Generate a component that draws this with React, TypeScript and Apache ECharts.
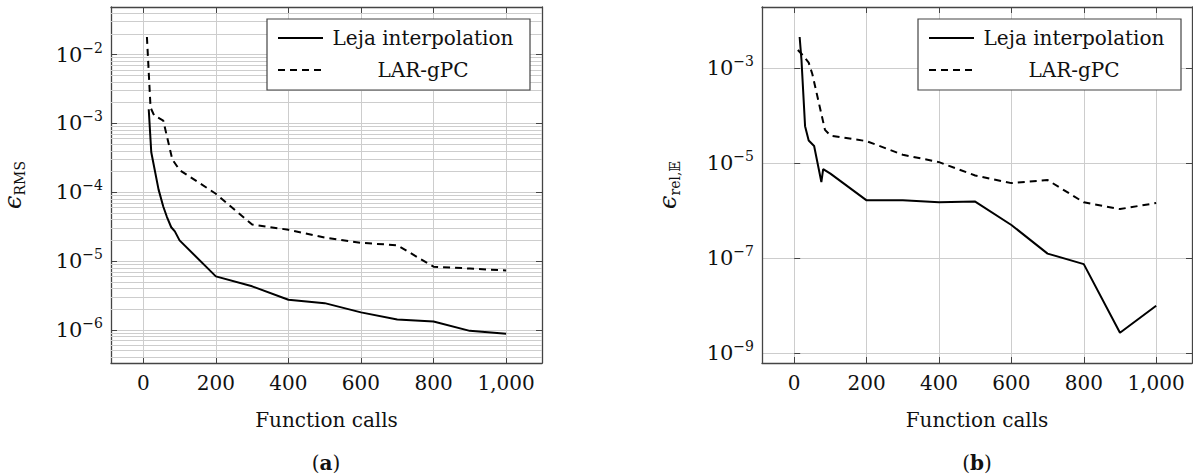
import React, { useEffect, useRef } from "react";
import * as echarts from "echarts";

// ---------- data ----------
// (a) RMS error
const lejaCallsA = [15, 22, 42, 55, 65, 77, 87, 100, 200, 300, 400, 500, 600, 700, 800, 900, 1000];
const lejaErrA = [1.6e-3, 3.8e-4, 1.1e-4, 6.2e-5, 4.4e-5, 3.1e-5, 2.7e-5, 2.0e-5, 6.0e-6, 4.3e-6, 2.75e-6, 2.45e-6, 1.8e-6, 1.42e-6, 1.33e-6, 9.7e-7, 8.8e-7];
const larCallsA = [10, 20, 30, 55, 80, 100, 200, 300, 400, 500, 600, 700, 800, 900, 1000];
const larErrA = [1.8e-2, 1.7e-3, 1.3e-3, 1.1e-3, 3.0e-4, 2.1e-4, 9.5e-5, 3.4e-5, 2.85e-5, 2.2e-5, 1.84e-5, 1.7e-5, 8.3e-6, 7.8e-6, 7.3e-6];
// (b) relative error of the mean
const lejaCallsB = [15, 20, 30, 40, 55, 75, 80, 100, 200, 300, 400, 500, 600, 700, 800, 900, 1000];
const lejaErrB = [4.5e-3, 1.5e-3, 6.0e-5, 3.0e-5, 2.3e-5, 4.0e-6, 7.5e-6, 6.0e-6, 1.65e-6, 1.65e-6, 1.5e-6, 1.55e-6, 5.0e-7, 1.25e-7, 7.5e-8, 2.7e-9, 1.0e-8];
const larCallsB = [10, 20, 40, 50, 85, 100, 200, 300, 400, 500, 600, 700, 800, 900, 1000];
const larErrB = [2.4e-3, 2.0e-3, 1.3e-3, 7.5e-4, 5.0e-5, 3.8e-5, 2.9e-5, 1.5e-5, 1.05e-5, 5.5e-6, 3.8e-6, 4.4e-6, 1.5e-6, 1.08e-6, 1.45e-6];

const seriesNames = ["Leja interpolation", "LAR-gPC"];
const xLabel = "Function calls";
const captions = ["a", "b"];
// decade exponents labelled on panel (b)
const yTickExpB = [-9, -7, -5, -3];

// ---------- styling ----------
const FONT = "DejaVu Serif";
const FS = 20;
const TXT = "#111";
const FRAME = "#444";
const GRID = "#cdcdcd";
const X_MIN = -89;
const X_MAX = 1099;
const EXP_A = [-6.48, -1.31];
const EXP_B = [-9.204, -1.716];
const Y_A = EXP_A.map((e) => Math.pow(10, e));
const Y_B = EXP_B.map((e) => Math.pow(10, e));
// exponent range shifted by one decade so that the automatic even ticks fall on the odd decades of (b)
const EXP_B_SHIFT = EXP_B.map((e) => e + 1);

const zip = (xs: number[], ys: number[]) => xs.map((x, i) => [x, ys[i]]);

const expLabel = (e: number) => `{b|10}{s|${e < 0 ? "\u2212" : ""}${Math.abs(e)}}`;
const supLabel = (v: number) => expLabel(Math.round(Math.log10(v)));

const tickRich = {
  b: { fontFamily: FONT, fontSize: 21, color: TXT, lineHeight: 28 },
  s: { fontFamily: FONT, fontSize: 14, color: TXT, verticalAlign: "top", lineHeight: 15 },
};

function minorValues(range: number[]) {
  const out: number[] = [];
  for (let e = -10; e <= 0; e++) {
    for (let k = 2; k <= 9; k++) {
      const v = k * Math.pow(10, e);
      if (v > range[0] && v < range[1]) out.push(v);
    }
  }
  return out;
}

const lineFrame = { show: true, onZero: false, lineStyle: { color: FRAME, width: 1.3 } };
const tickIn = { show: true, inside: true, length: 6, lineStyle: { color: FRAME, width: 1 } };

function xAxes(grid: number) {
  const base = { type: "value", gridIndex: grid, min: X_MIN, max: X_MAX, axisLine: lineFrame, axisTick: tickIn };
  return [
    {
      ...base,
      position: "bottom",
      name: xLabel,
      nameLocation: "middle",
      nameGap: 47,
      nameTextStyle: { fontFamily: FONT, fontSize: FS, color: TXT },
      axisLabel: {
        fontFamily: FONT,
        fontSize: FS,
        color: TXT,
        margin: 10,
        showMinLabel: false,
        showMaxLabel: false,
        formatter: (v: number) => v.toLocaleString("en-US"),
      },
      splitLine: { show: true, lineStyle: { color: GRID, width: 1 } },
    },
    { ...base, position: "top", axisLabel: { show: false }, splitLine: { show: false } },
  ];
}

const nameRich = {
  e: { fontFamily: FONT, fontSize: 24, fontStyle: "italic", color: TXT, lineHeight: 28 },
  s: { fontFamily: FONT, fontSize: 14, color: TXT, verticalAlign: "bottom", lineHeight: 16 },
};

const yName = (text: string, gap: number) => ({
  name: text,
  nameLocation: "middle",
  nameRotate: 90,
  nameGap: gap,
  nameTextStyle: { rich: nameRich },
});

// panel (a): log axes with their own decade ticks
const yAxesA = [
  {
    type: "log",
    gridIndex: 0,
    position: "left",
    min: Y_A[0],
    max: Y_A[1],
    axisLine: lineFrame,
    axisTick: tickIn,
    ...yName("{e|\u03f5}{s|RMS}", 84),
    axisLabel: { margin: 8, showMinLabel: false, showMaxLabel: false, formatter: supLabel, rich: tickRich },
    splitLine: { show: true, lineStyle: { color: GRID, width: 1 } },
  },
  {
    type: "log",
    gridIndex: 0,
    position: "right",
    min: Y_A[0],
    max: Y_A[1],
    axisLine: lineFrame,
    axisTick: tickIn,
    axisLabel: { show: false },
    splitLine: { show: false },
  },
];

// panel (b): log axis for the data, an exponent axis for the labels,
// and shifted exponent axes giving the grid lines / tick marks at odd decades
const yAxesB = [
  {
    type: "log",
    gridIndex: 1,
    position: "left",
    min: Y_B[0],
    max: Y_B[1],
    axisLine: lineFrame,
    axisTick: { show: false },
    axisLabel: { show: false },
    splitLine: { show: false },
    ...yName("{e|\u03f5}{s|rel,\ud835\udd3c}", 80),
  },
  {
    type: "value",
    gridIndex: 1,
    position: "left",
    min: EXP_B[0],
    max: EXP_B[1],
    axisLine: { show: false },
    axisTick: { show: false },
    axisLabel: { margin: 8, customValues: yTickExpB, formatter: (e: number) => expLabel(e), rich: tickRich },
    splitLine: { show: false },
  },
  {
    type: "value",
    gridIndex: 1,
    position: "left",
    min: EXP_B_SHIFT[0],
    max: EXP_B_SHIFT[1],
    splitNumber: 4,
    axisLine: { show: false },
    axisTick: tickIn,
    axisLabel: { show: false },
    splitLine: { show: true, lineStyle: { color: GRID, width: 1 } },
  },
  {
    type: "value",
    gridIndex: 1,
    position: "right",
    min: EXP_B_SHIFT[0],
    max: EXP_B_SHIFT[1],
    splitNumber: 4,
    axisLine: lineFrame,
    axisTick: tickIn,
    axisLabel: { show: false },
    splitLine: { show: false },
  },
];

function legend(left: number) {
  return {
    left,
    top: 19,
    orient: "vertical",
    selectedMode: false,
    data: seriesNames,
    itemWidth: 45,
    itemHeight: 14,
    itemGap: 12,
    padding: [9, 12, 10, 10],
    backgroundColor: "#fff",
    borderColor: FRAME,
    borderWidth: 1.2,
    borderRadius: 0,
    itemStyle: { color: "rgba(0,0,0,0)", borderColor: "rgba(0,0,0,0)", borderWidth: 0, opacity: 0 },
    lineStyle: { opacity: 1 },
    formatter: (n: string) => `{c|${n}}`,
    textStyle: {
      rich: {
        c: { width: 190, align: "center", fontFamily: FONT, fontSize: FS, color: TXT, lineHeight: 24 },
      },
    },
  };
}

const gridMark = (vals: number[], color: string) => ({
  silent: true,
  symbol: ["none", "none"],
  precision: 12,
  z: 1,
  label: { show: false },
  lineStyle: { color, type: "solid", width: 1 },
  emphasis: { disabled: true },
  data: vals.map((v) => ({ yAxis: v })),
});

const lineSeries = (name: string, xi: number, yi: number, data: number[][], dashed: boolean, extra: any = {}) => ({
  type: "line",
  name,
  xAxisIndex: xi,
  yAxisIndex: yi,
  data,
  symbol: "none",
  showSymbol: false,
  z: 3,
  lineStyle: { color: "#000", width: 2, type: dashed ? [7, 5] : "solid" },
  itemStyle: { color: "#000" },
  ...extra,
});

export default function App() {
  const ref = useRef<HTMLDivElement>(null);
  useEffect(() => {
    if (!ref.current) return;
    const chart = echarts.init(ref.current, undefined, { renderer: "svg" });
    const option: any = {
      animation: false,
      backgroundColor: "#fff",
      grid: [
        { left: 111, top: 7, width: 431, height: 356, containLabel: false },
        { left: 762, top: 7, width: 430, height: 356, containLabel: false },
      ],
      xAxis: [...xAxes(0), ...xAxes(1)],
      yAxis: [...yAxesA, ...yAxesB],
      legend: [legend(267), legend(918)],
      series: [
        lineSeries(seriesNames[0], 0, 0, zip(lejaCallsA, lejaErrA), false, {
          markLine: gridMark(minorValues(Y_A), GRID),
        }),
        lineSeries(seriesNames[1], 0, 0, zip(larCallsA, larErrA), true),
        lineSeries(seriesNames[0], 2, 2, zip(lejaCallsB, lejaErrB), false),
        lineSeries(seriesNames[1], 2, 2, zip(larCallsB, larErrB), true),
      ],
      graphic: captions.map((c, i) => ({
        type: "text",
        x: i === 0 ? 326 : 977,
        y: 463,
        style: {
          text: `({b|${c}})`,
          fontFamily: FONT,
          fontSize: FS,
          fill: TXT,
          align: "center",
          verticalAlign: "middle",
          rich: { b: { fontFamily: FONT, fontSize: FS, fontWeight: "bold", fill: TXT } },
        },
      })),
    };
    chart.setOption(option);
    return () => chart.dispose();
  }, []);
  return (
    <div
      ref={ref}
      style={{ position: "fixed", left: 0, top: 0, width: 1193, height: 474 }}
    />
  );
}
